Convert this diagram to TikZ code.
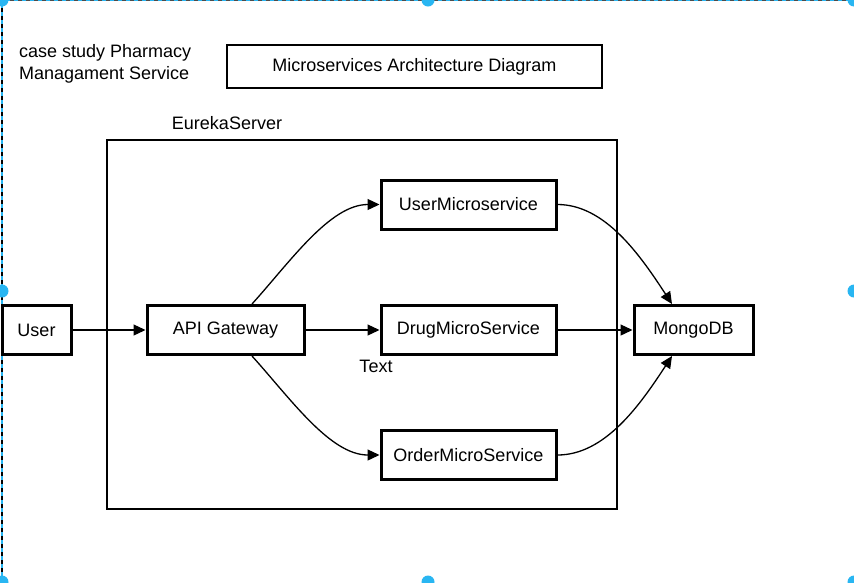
\documentclass[tikz,border=0pt]{standalone}
\usepackage{fontspec}
\setmainfont{Liberation Sans}
\usetikzlibrary{arrows.meta}
\definecolor{selblue}{HTML}{29B6F2}
\tikzset{
  svc/.style={draw=black, line width=3pt, fill=white, minimum height=49pt, inner sep=0pt, font=\fontsize{18}{21}\selectfont},
  conn/.style={draw=black, line width=1.3pt, -{Triangle[length=12pt,width=11pt]}},
  lbl/.style={inner sep=0pt, font=\fontsize{18}{22}\selectfont},
  handle/.style={fill=selblue, draw=none},
}
\begin{document}
\begin{tikzpicture}[x=1pt,y=-1pt]
\useasboundingbox (0,0) rectangle (854,582);
\fill[white] (0,0) rectangle (854,582);
% selection frame
\draw[selblue, line width=1.2pt] (2,0.6) -- (854,0.6);
\draw[selblue, line width=1.2pt] (2,0) -- (2,582);
\draw[black!70, line width=1.2pt, dash pattern=on 4pt off 4pt] (2,0.6) -- (854,0.6);
\draw[black, line width=1.2pt, dash pattern=on 4pt off 4pt] (2,0) -- (2,582);
\foreach \p in {(2,0),(428,0),(854,0),(2,291),(854,291),(2,582),(428,582),(854,582)}
  \fill[handle] \p circle (6.5pt);
% texts
\node[lbl, anchor=west, align=left] (case) at (19,64) {case study Pharmacy\\Managament Service};
\node[draw=black, line width=1.5pt, minimum width=375pt, minimum height=43pt, inner sep=0pt, font=\fontsize{18}{21}\selectfont] (title) at (414.5,66.5) {Microservices Architecture Diagram};
\node[lbl] (eureka) at (227,123) {EurekaServer};
\node[draw=black, line width=1.2pt, minimum width=510pt, minimum height=369pt, inner sep=0pt] (container) at (362,324.5) {};
% nodes
\node[svc, minimum width=69pt] (user) at (36.5,330) {User};
\node[svc, minimum width=157pt] (api) at (225.5,330) {API Gateway};
\node[svc, minimum width=175pt] (ums) at (468.5,204.5) {UserMicroservice};
\node[svc, minimum width=175pt] (dms) at (468.5,330) {DrugMicroService};
\node[svc, minimum width=175pt] (oms) at (468.5,455) {OrderMicroService};
\node[svc, minimum width=119pt] (mongo) at (693.5,330) {MongoDB};
\node[lbl] (txt) at (376,366) {Text};
% connectors
\draw[conn] (user) -- (api);
\draw[conn] (api) -- (dms);
\draw[conn] (dms) -- (mongo);
\draw[conn] ([xshift=26.5pt]api.north) .. controls (290,262) and (330,204.5) .. (ums.west);
\draw[conn] ([xshift=26.5pt]api.south) .. controls (290,398) and (330,455) .. (oms.west);
\draw[conn] (ums.east) .. controls (605,204.5) and (640,255) .. ([xshift=-21.5pt]mongo.north);
\draw[conn] (oms.east) .. controls (605,455) and (640,405) .. ([xshift=-21.5pt]mongo.south);
\end{tikzpicture}
\end{document}
